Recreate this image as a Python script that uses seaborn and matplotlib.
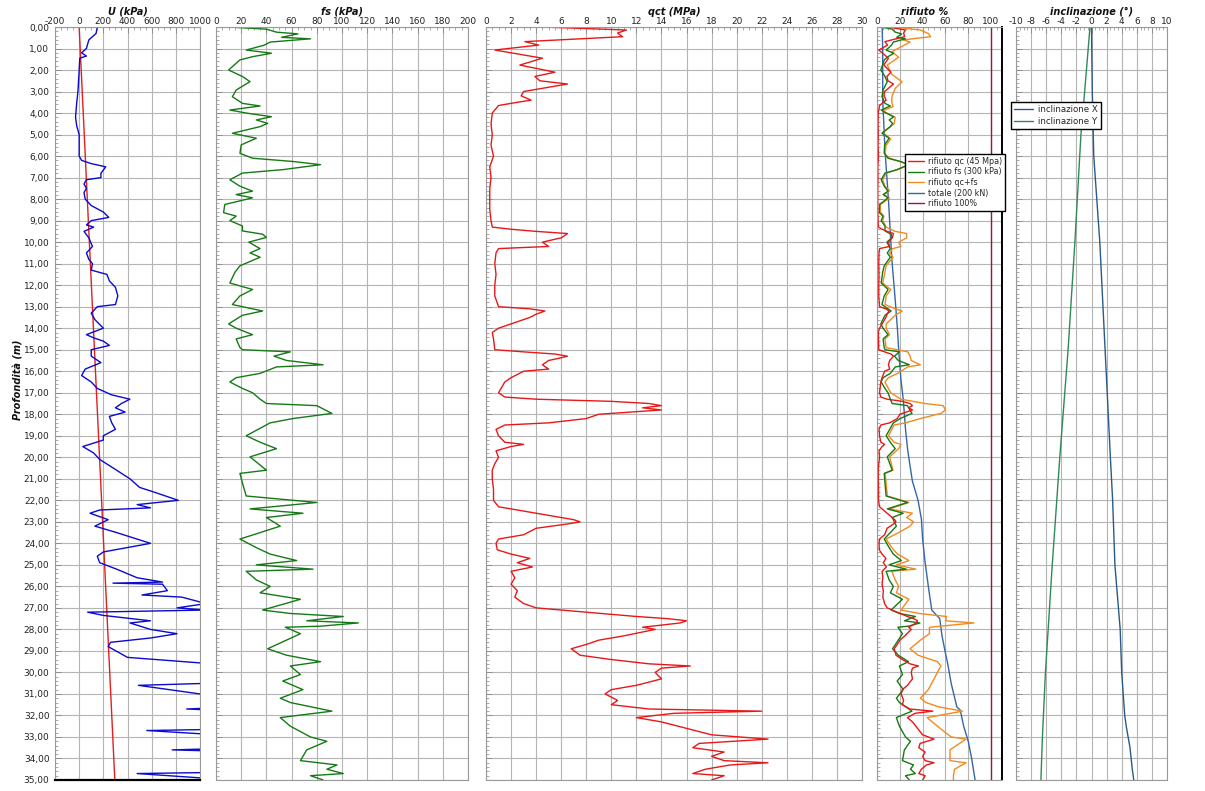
import numpy as np
import pandas as pd
import matplotlib
matplotlib.use("Agg")
import matplotlib.pyplot as plt
from matplotlib.ticker import MultipleLocator, FuncFormatter
from matplotlib.lines import Line2D
import seaborn as sns

# ---------------- data ----------------
u_depth = [0.0, 0.3, 0.6, 1.0, 1.2, 1.35, 1.45, 2.0, 3.0, 3.5, 4.2, 4.6, 5.0, 6.0, 6.2, 6.35, 6.5, 6.8, 7.0, 7.1,
           7.3, 7.5, 7.7, 8.0, 8.3, 8.6, 8.85, 9.0, 9.2, 9.3, 9.5, 9.8, 10.2, 10.5, 10.8, 11.0, 11.3, 11.5, 11.8, 12.1,
           12.5, 12.9, 13.0, 13.3, 13.6, 14.0, 14.3, 14.45, 14.6, 14.8, 15.0, 15.3, 15.6, 15.9, 16.2, 16.5, 16.8, 17.1,
           17.3, 17.5, 17.7, 17.9, 18.1, 18.4, 18.7, 19.0, 19.2, 19.5, 19.8, 20.1, 20.6, 21.0, 21.4, 21.6, 22.0, 22.2,
           22.35, 22.45, 22.6, 22.9, 23.2, 23.5, 24.0, 24.4, 24.6, 24.9, 25.2, 25.6, 25.8, 25.85, 25.9, 26.2, 26.4,
           26.5, 26.8, 27.0, 27.1, 27.2, 27.35, 27.6, 27.7, 28.0, 28.2, 28.4, 28.6, 28.8, 29.3, 29.6, 30.5, 30.6, 31.0,
           31.05, 31.65, 31.7, 31.75, 32.65, 32.7, 32.85, 32.9, 33.55, 33.6, 33.65, 34.65, 34.7, 34.9, 35.0]
u_kpa = [150, 140, 80, 60, 20, 60, 5, 0, -10, -20, -30, -20, 0, 0, 20, 100, 220, 180, 180, 60,
         40, 60, 40, 50, 100, 200, 245, 100, 60, 120, 40, 80, 110, 60, 80, 110, 100, 230, 250, 300,
         320, 300, 150, 100, 130, 200, 60, 120, 200, 250, 100, 100, 180, 50, 20, 100, 150, 270,
         420, 350, 300, 380, 250, 270, 300, 200, 200, 30, 120, 170, 310, 420, 500, 610, 820, 480,
         590, 170, 90, 240, 130, 310, 590, 200, 150, 170, 310, 480, 690, 280, 690, 730, 520,
         850, 1050, 810, 1050, 70, 200, 590, 420, 590, 810, 590, 260, 240, 400, 1100, 1100, 490, 1000,
         1100, 1100, 890, 1100, 1100, 560, 1000, 1100, 1100, 770, 1100, 1100, 480, 1000, 1100]
hydro_depth = [0.0, 35.0]
hydro_kpa = [0, 295]

fs_depth = [0.0, 0.1, 0.24, 0.32, 0.48, 0.55, 0.7, 0.85, 1.07, 1.22, 1.38, 1.53, 2.0, 2.3, 2.54, 2.93, 3.24, 3.55,
            3.67, 3.86, 4.0, 4.17, 4.32, 4.48, 4.63, 4.94, 5.17, 5.48, 5.87, 6.1, 6.25, 6.4, 6.63, 6.79, 7.1, 7.4,
            7.63, 7.79, 7.94, 8.25, 8.63, 8.79, 9.0, 9.25, 9.48, 9.63, 9.78, 10.0, 10.3, 10.5, 10.7, 11.1, 11.4,
            11.9, 12.2, 12.5, 12.9, 13.2, 13.4, 13.8, 14.0, 14.3, 14.5, 14.9, 15.0, 15.1, 15.3, 15.5, 15.7, 15.8,
            16.1, 16.3, 16.5, 16.8, 17.0, 17.3, 17.5, 17.6, 17.96, 18.2, 18.4, 19.0, 19.3, 19.6, 19.98, 20.6,
            20.75, 21.2, 21.8, 22.1, 22.4, 22.6, 22.8, 23.2, 23.8, 24.2, 24.5, 24.8, 25.0, 25.2, 25.3, 25.7, 26.0,
            26.3, 26.6, 27.1, 27.26, 27.4, 27.6, 27.7, 27.85, 27.9, 28.2, 28.9, 29.2, 29.5, 29.7, 30.1, 30.4,
            30.8, 31.2, 31.4, 31.8, 32.1, 32.5, 33.0, 33.2, 33.6, 34.1, 34.3, 34.5, 34.7, 34.8, 35.0]
fs_kpa = [10, 40, 48, 65, 52, 75, 43, 38, 24, 44, 29, 19, 10, 21, 27, 16, 13, 21,
          35, 11, 24, 44, 32, 41, 35, 13, 32, 20, 19, 29, 61, 83, 53, 21, 11, 19,
          29, 16, 29, 7, 6, 16, 11, 21, 21, 37, 40, 26, 35, 27, 35, 19, 15,
          11, 29, 19, 13, 37, 21, 10, 16, 29, 16, 19, 21, 59, 46, 56, 85, 48,
          35, 16, 11, 21, 29, 35, 40, 80, 92, 61, 43, 24, 35, 48, 27, 40,
          19, 21, 24, 80, 27, 69, 40, 51, 19, 32, 43, 64, 32, 77, 24, 32, 43,
          35, 67, 37, 59, 101, 72, 113, 83, 55, 67, 41, 56, 83, 59, 67, 53,
          69, 51, 59, 92, 51, 59, 75, 88, 72, 67, 96, 88, 101, 75, 85]

qct_depth = [0.0, 0.14, 0.28, 0.37, 0.45, 0.68, 0.84, 1.07, 1.45, 1.77, 2.1, 2.3, 2.5, 2.65, 2.8, 3.0, 3.2, 3.4,
             3.5, 3.65, 4.0, 4.5, 5.0, 5.5, 6.0, 6.5, 7.0, 7.5, 8.0, 8.5, 9.0, 9.3, 9.4, 9.5, 9.6, 9.8, 10.0,
             10.2, 10.3, 10.5, 11.0, 11.5, 12.0, 12.5, 13.0, 13.1, 13.2, 13.35, 13.5, 13.8, 14.0, 14.2, 14.5,
             15.0, 15.1, 15.2, 15.3, 15.4, 15.5, 15.7, 15.9, 16.0, 16.3, 16.5, 17.0, 17.2, 17.3, 17.4, 17.5,
             17.6, 17.7, 17.8, 18.0, 18.2, 18.4, 18.5, 18.7, 19.0, 19.3, 19.4, 19.5, 19.7, 20.0, 20.3, 20.6,
             21.0, 21.5, 22.0, 22.3, 22.5, 22.7, 22.9, 23.0, 23.1, 23.3, 23.6, 23.8, 24.0, 24.3, 24.5, 24.7,
             24.9, 25.1, 25.3, 25.6, 25.9, 26.2, 26.5, 26.8, 27.0, 27.2, 27.4, 27.5, 27.6, 27.7, 27.9, 28.0,
             28.3, 28.5, 28.7, 28.9, 29.2, 29.4, 29.6, 29.7, 29.8, 30.0, 30.3, 30.6, 30.8, 31.0, 31.3, 31.5,
             31.7, 31.8, 31.9, 32.1, 32.3, 32.6, 32.9, 33.1, 33.3, 33.5, 33.7, 33.9, 34.1, 34.2, 34.3, 34.5,
             34.7, 34.8, 35.0]
qct_mpa = [4.5, 11.2, 10.5, 10.7, 10.9, 3.1, 4.2, 0.7, 4.5, 2.7, 5.5, 3.9, 4.3, 6.5, 5.0, 3.0, 2.8, 3.6,
           2.5, 1.0, 0.5, 0.4, 0.5, 0.4, 0.6, 0.3, 0.4, 0.3, 0.3, 0.3, 0.4, 0.5, 2.0, 4.0, 6.5, 6.0, 4.5,
           5.0, 1.0, 0.8, 0.7, 0.8, 0.7, 0.7, 1.0, 3.5, 4.7, 4.0, 3.5, 2.0, 1.0, 0.5, 0.6,
           0.7, 3.0, 5.5, 6.5, 5.8, 5.0, 4.5, 5.0, 3.0, 2.0, 1.5, 1.0, 1.5, 4.0, 10.0, 13.0,
           14.0, 12.5, 14.0, 9.0, 8.0, 5.0, 1.5, 0.8, 1.0, 1.5, 3.0, 2.0, 0.8, 1.0, 0.7, 0.5,
           0.5, 0.6, 0.6, 1.0, 3.0, 5.0, 7.0, 7.5, 6.5, 4.0, 3.0, 1.0, 0.8, 0.9, 2.0, 3.5,
           2.5, 3.7, 2.0, 2.3, 2.0, 2.5, 2.3, 3.0, 4.0, 8.0, 12.0, 14.5, 16.0, 15.5, 12.5, 13.5,
           11.0, 9.0, 8.0, 6.8, 7.5, 10.0, 13.0, 16.3, 14.0, 13.5, 14.0, 12.0, 10.0, 9.5, 10.5, 10.0,
           13.0, 22.0, 15.0, 12.0, 14.0, 16.0, 18.0, 22.5, 17.0, 16.5, 19.0, 18.0, 19.0, 22.5, 19.5, 17.5,
           16.5, 19.0, 18.0]

# refusal percentages: qc against 45 MPa, fs against 300 kPa
rif_qc_pct = [v * 100.0 / 45.0 for v in qct_mpa]
rif_fs_pct = [v * 100.0 / 300.0 for v in fs_kpa]

rif_sum_depth = [0.0, 0.14, 0.3, 0.45, 0.6, 0.7, 1.15, 1.4, 1.77, 2.2, 2.55, 2.85, 3.25, 3.5, 3.7, 3.9, 4.2, 4.5,
                 4.9, 5.2, 5.5, 5.9, 6.1, 6.4, 6.6, 6.8, 7.1, 7.4, 7.6, 7.8, 7.95, 8.25, 8.6, 8.8, 9.0, 9.3, 9.5,
                 9.6, 9.8, 10.0, 10.2, 10.3, 10.5, 10.7, 11.1, 11.4, 11.9, 12.2, 12.5, 12.9, 13.1, 13.2, 13.4,
                 13.8, 14.0, 14.3, 14.5, 14.9, 15.1, 15.3, 15.5, 15.7, 15.8, 16.1, 16.3, 16.5, 16.8, 17.0, 17.3,
                 17.5, 17.6, 17.8, 17.96, 18.2, 18.4, 18.5, 19.0, 19.3, 19.4, 19.6, 19.98, 20.6, 20.75, 21.2,
                 21.8, 22.1, 22.4, 22.6, 22.8, 23.0, 23.2, 23.5, 23.8, 24.2, 24.5, 24.8, 25.0, 25.2, 25.3, 25.7,
                 26.0, 26.3, 26.6, 27.1, 27.26, 27.4, 27.6, 27.7, 27.85, 27.9, 28.2, 28.5, 28.9, 29.2, 29.5,
                 29.7, 30.1, 30.4, 30.8, 31.2, 31.4, 31.6, 31.8, 32.1, 32.5, 33.0, 33.1, 33.6, 34.1, 34.2, 34.5,
                 34.8, 35.0]
rif_sum_pct = [15, 38, 45, 47, 23, 29, 13, 19, 9, 13, 22, 16, 13, 13, 14, 5, 16, 15,
               5, 12, 8, 7, 11, 29, 19, 8, 5, 7, 11, 6, 11, 3, 3, 6, 5, 8, 16,
               26, 26, 19, 21, 14, 11, 14, 8, 7, 5, 12, 8, 7, 16, 22, 16,
               8, 8, 11, 7, 8, 27, 29, 30, 38, 27, 18, 10, 7, 10, 12, 21,
               42, 58, 60, 56, 38, 25, 15, 10, 15, 21, 19, 11, 14, 7, 8,
               9, 28, 11, 31, 26, 32, 29, 19, 8, 13, 18, 28, 17, 34, 13, 16,
               19, 17, 28, 21, 37, 61, 60, 85, 56, 46, 46, 38, 29, 36, 53,
               56, 52, 49, 45, 38, 43, 54, 75, 44, 53, 65, 78, 64, 64, 78, 68,
               67, 67]

tot_depth = [0.0, 1.0, 3.4, 5.7, 8.0, 10.8, 12.7, 14.1, 15.0, 16.4, 17.3, 18.7, 19.7, 21.1, 22.0, 22.9, 23.8,
             24.8, 26.0, 27.1, 27.5, 28.3, 29.1, 29.6, 30.5, 31.6, 31.75, 32.5, 33.2, 34.0, 35.0]
tot_pct = [4.5, 5, 5, 7, 10, 13, 16, 18, 19, 21, 23, 25, 27, 31, 36, 39, 40,
           42, 45, 48, 55, 57, 60, 62, 65, 70, 73, 76, 80, 83, 86]
limit_depth = [0.0, 35.0]
limit_pct = [100, 100]

incx_depth = [0.0, 3.0, 6.0, 10.0, 15.0, 20.0, 22.0, 25.0, 28.0, 30.0, 32.0, 32.5, 33.5, 34.5, 35.0]
incx_deg = [0.0, 0.1, 0.3, 1.1, 1.8, 2.5, 2.8, 3.1, 3.8, 4.0, 4.4, 4.6, 5.1, 5.4, 5.6]
incy_depth = [0.0, 3.4, 5.0, 10.0, 15.0, 20.0, 25.0, 30.0, 33.0, 35.0]
incy_deg = [-0.2, -1.0, -1.4, -2.2, -3.1, -4.2, -5.2, -6.1, -6.5, -6.7]

# ---------------- style ----------------
sns.set_theme(style="white")
plt.rcParams['font.family'] = ['DejaVu Sans']

C_U = "#0a0ad0"
C_HYD = "#e02020"
C_FS = "#157a15"
C_QC = "#e81818"
C_ORA = "#f28a1e"
C_TOT = "#3566a8"
C_LIM = "#9b1060"
C_IX = "#2a5a8a"
C_IY = "#2f8a55"
GRID = "#b4b4b4"

W, H = 1205, 791
fig = plt.figure(figsize=(W / 100, H / 100), dpi=100)
top_px, bot_px = 27, 780
b = 1 - bot_px / H
h = (bot_px - top_px) / H


def make_ax(x0, x1):
    return fig.add_axes([x0 / W, b, (x1 - x0) / W, h])


def style(ax, xlim, step, title, ylabels=False, title_x=None):
    ax.set_xlim(*xlim)
    ax.set_ylim(35, 0)
    ax.xaxis.set_major_locator(MultipleLocator(step))
    ax.xaxis.set_minor_locator(MultipleLocator(step / 4))
    ax.yaxis.set_major_locator(MultipleLocator(1))
    ax.yaxis.set_minor_locator(MultipleLocator(0.2))
    ax.xaxis.tick_top()
    ax.grid(True, which="major", color=GRID, lw=0.8)
    ax.tick_params(axis="x", which="major", labelsize=6.5, labelcolor="#222222", direction="in",
                   length=4, width=0.6, color="#888888", pad=1, top=True, bottom=False)
    ax.tick_params(axis="x", which="minor", direction="in", length=2.5, width=0.5, color="#888888",
                   top=True, bottom=False)
    ax.tick_params(axis="y", which="major", labelsize=6.5, labelcolor="#222222", direction="in",
                   length=4, width=0.6, color="#888888", pad=4, left=True, right=False)
    ax.tick_params(axis="y", which="minor", direction="in", length=2.5, width=0.5, color="#888888",
                   left=True, right=False)
    if ylabels:
        ax.yaxis.set_major_formatter(FuncFormatter(lambda v, p: f"{v:.2f}".replace(".", ",")))
    else:
        ax.tick_params(axis="y", labelleft=False)
    ax.xaxis.set_major_formatter(FuncFormatter(lambda v, p: f"{v:g}"))
    for s in ax.spines.values():
        s.set_color("#999999")
        s.set_linewidth(0.8)
    ax.set_xlabel("")
    ax.set_ylabel("")
    tx = 0.5 if title_x is None else title_x
    ax.text(tx, 1.0 + 10 / (bot_px - top_px), title, transform=ax.transAxes, ha="center", va="bottom",
            fontsize=7, fontweight="bold", fontstyle="italic", color="#111111")


def line(ax, xs, ys, color, lw=1.0):
    sns.lineplot(x=xs, y=ys, orient="y", sort=False, estimator=None, ax=ax, color=color,
                 linewidth=lw, legend=False)


# Panel 1: pore pressure U
ax1 = make_ax(55, 200)
line(ax1, hydro_kpa, hydro_depth, C_HYD, 1.0)
line(ax1, u_kpa, u_depth, C_U, 1.0)
style(ax1, (-200, 1000), 200, "U (kPa)", ylabels=True)
ax1.spines["bottom"].set_color("black")
ax1.spines["bottom"].set_linewidth(1.6)

# Panel 2: fs
ax2 = make_ax(216, 468)
line(ax2, fs_kpa, fs_depth, C_FS, 1.0)
style(ax2, (0, 200), 20, "fs (kPa)")

# Panel 3: qct
ax3 = make_ax(486, 862)
line(ax3, qct_mpa, qct_depth, C_QC, 1.0)
style(ax3, (0, 30), 2, "qct (MPa)")

# Panel 4: rifiuto %
ax4 = make_ax(877, 1002)
line(ax4, limit_pct, limit_depth, C_LIM, 1.0)
line(ax4, tot_pct, tot_depth, C_TOT, 1.0)
line(ax4, rif_sum_pct, rif_sum_depth, C_ORA, 1.0)
line(ax4, rif_fs_pct, fs_depth, C_FS, 1.0)
line(ax4, rif_qc_pct, qct_depth, C_QC, 1.0)
style(ax4, (0, 109.6), 20, "rifiuto %", title_x=0.38)
ax4.set_xticks([0, 20, 40, 60, 80, 100])
ax4.spines["right"].set_color("black")
ax4.spines["right"].set_linewidth(1.4)

# Panel 5: inclinazione
ax5 = make_ax(1016, 1167)
line(ax5, incy_deg, incy_depth, C_IY, 1.0)
line(ax5, incx_deg, incx_depth, C_IX, 1.0)
style(ax5, (-10, 10), 2, "inclinazione (°)")

fig.text(19 / W, 1 - 380 / H, "Profondità (m)", rotation=90, ha="center", va="center",
         fontsize=7, fontweight="bold", fontstyle="italic", color="#111111")

leg4 = [Line2D([], [], color=C_QC, lw=1), Line2D([], [], color=C_FS, lw=1),
        Line2D([], [], color=C_ORA, lw=1), Line2D([], [], color=C_TOT, lw=1),
        Line2D([], [], color=C_LIM, lw=1)]
lab4 = ["rifiuto qc (45 Mpa)", "rifiuto fs (300 kPa)", "rifiuto qc+fs", "totale (200 kN)", "rifiuto 100%"]
L4 = fig.legend(leg4, lab4, loc="upper left", bbox_to_anchor=(905 / W, 1 - 154 / H), fontsize=5.8,
                frameon=True, fancybox=False, edgecolor="black", framealpha=1, handlelength=2.0,
                borderpad=0.35, labelspacing=0.2, handletextpad=0.5, borderaxespad=0)
L4.get_frame().set_linewidth(1.0)

leg5 = [Line2D([], [], color=C_IX, lw=1), Line2D([], [], color=C_IY, lw=1)]
L5 = fig.legend(leg5, ["inclinazione X", "inclinazione Y"], loc="upper left",
                bbox_to_anchor=(1011 / W, 1 - 102 / H), fontsize=6.2, frameon=True, fancybox=False,
                edgecolor="black", framealpha=1, handlelength=2.2, borderpad=0.4, labelspacing=0.3,
                handletextpad=0.5, borderaxespad=0)
L5.get_frame().set_linewidth(1.0)

fig.savefig("out.png", dpi=100)
